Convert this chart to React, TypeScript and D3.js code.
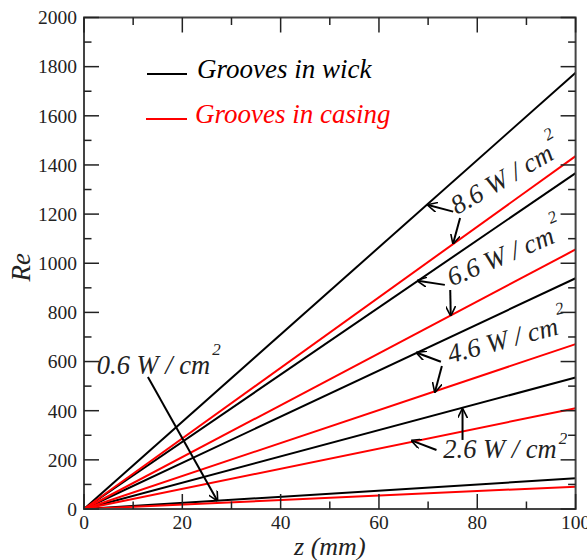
import * as d3 from "d3";

const Z_MM = [0, 100];

// Grooves in wick (black)
const WICK_06 = [0, 125];
const WICK_26 = [0, 535];
const WICK_46 = [0, 939];
const WICK_66 = [0, 1367];
const WICK_86 = [0, 1775];

// Grooves in casing (red)
const CASING_06 = [0, 91];
const CASING_26 = [0, 410];
const CASING_46 = [0, 671];
const CASING_66 = [0, 1056];
const CASING_86 = [0, 1436];

const X_TICKS = [0, 20, 40, 60, 80, 100];
const Y_TICKS = [0, 200, 400, 600, 800, 1000, 1200, 1400, 1600, 1800, 2000];

// heat flux labels: [text, z, Re, angle]
const FLUX_LABELS: [string, number, number, number][] = [
  ["8.6", 75.9, 1196, -30],
  ["6.6", 74.8, 905, -23],
  ["4.6", 74.5, 593, -15],
  ["2.6", 73.1, 206, 0],
  ["0.6", 2.6, 549, 0],
];

// arrows: [z0, Re0, z1, Re1]
const ARROWS: [number, number, number, number][] = [
  [75.1, 1210, 70.0, 1237],
  [76.5, 1184, 75.1, 1081],
  [73.4, 912, 67.9, 929],
  [74.5, 891, 74.6, 789],
  [72.6, 599, 67.7, 636],
  [72.8, 582, 71.4, 477],
  [71.7, 240, 66.7, 278],
  [77.0, 281, 77.0, 406],
  [13.0, 537, 27.1, 35],
];

const W = 587;
const H = 560;
const margin = { top: 17.5, right: 11.4, bottom: 51, left: 84 };
const FONT = "'Liberation Serif', 'DejaVu Serif', serif";

export default function App() {
  const x = d3.scaleLinear().domain([0, 100]).range([margin.left, W - margin.right]);
  const y = d3.scaleLinear().domain([0, 2000]).range([H - margin.bottom, margin.top]);

  const line = d3
    .line<number>()
    .x((_, i) => x(Z_MM[i]))
    .y((d) => y(d));

  const series = [
    { v: WICK_06, c: "#000" },
    { v: WICK_26, c: "#000" },
    { v: WICK_46, c: "#000" },
    { v: WICK_66, c: "#000" },
    { v: WICK_86, c: "#000" },
    { v: CASING_06, c: "#ff0000" },
    { v: CASING_26, c: "#ff0000" },
    { v: CASING_46, c: "#ff0000" },
    { v: CASING_66, c: "#ff0000" },
    { v: CASING_86, c: "#ff0000" },
  ];

  const x0 = x.range()[0];
  const x1 = x.range()[1];
  const y0 = y.range()[0];
  const y1 = y.range()[1];

  const xMinor = d3.range(0, 101, 10);
  const yMinor = d3.range(0, 2001, 100);
  const tf = { fontFamily: FONT };

  return (
    <svg
      width={W}
      height={H}
      style={{ position: "absolute", left: 0, top: 0, background: "#fff", fontFamily: FONT }}
    >
      <defs>
        <marker
          id="arr"
          viewBox="0 0 10 10"
          refX="9"
          refY="5"
          markerWidth="5"
          markerHeight="5"
          orient="auto"
          markerUnits="strokeWidth"
        >
          <path d="M0,0 L10,5 L0,10" fill="none" stroke="#000" strokeWidth="1.6" />
        </marker>
      </defs>

      {/* data lines */}
      {series.map((s, i) => (
        <path key={i} d={line(s.v) || ""} fill="none" stroke={s.c} strokeWidth={2} />
      ))}

      {/* frame */}
      <rect x={x0} y={y1} width={x1 - x0} height={y0 - y1} fill="none" stroke="#444" strokeWidth={2} />

      {/* ticks, inward on all sides */}
      {xMinor.map((t) => {
        const len = t % 20 === 0 ? 15 : 7.5;
        return (
          <g key={"x" + t} stroke="#222" strokeWidth={1.5}>
            <line x1={x(t)} x2={x(t)} y1={y0} y2={y0 - len} />
            <line x1={x(t)} x2={x(t)} y1={y1} y2={y1 + len} />
          </g>
        );
      })}
      {yMinor.map((t) => {
        const len = t % 200 === 0 ? 15 : 7.5;
        return (
          <g key={"y" + t} stroke="#222" strokeWidth={1.5}>
            <line x1={x0} x2={x0 + len} y1={y(t)} y2={y(t)} />
            <line x1={x1} x2={x1 - len} y1={y(t)} y2={y(t)} />
          </g>
        );
      })}

      {/* tick labels */}
      {X_TICKS.map((t) => (
        <text key={"xl" + t} x={x(t)} y={y0 + 20} textAnchor="middle" fontSize={19.5} fill="#222" style={tf}>
          {t}
        </text>
      ))}
      {Y_TICKS.map((t) => (
        <text
          key={"yl" + t}
          x={x0 - 7}
          y={y(t)}
          dy="0.35em"
          textAnchor="end"
          fontSize={19.5}
          fill="#222"
          style={tf}
        >
          {t}
        </text>
      ))}

      {/* axis titles */}
      <text x={(x0 + x1) / 2} y={555} textAnchor="middle" fontSize={26} fontStyle="italic" fill="#222" style={tf}>
        z (mm)
      </text>
      <text
        transform={`translate(30,${(y0 + y1) / 2 + 4}) rotate(-90)`}
        textAnchor="middle"
        fontSize={27}
        fontStyle="italic"
        fill="#222"
        style={tf}
      >
        Re
      </text>

      {/* legend */}
      <line x1={147} x2={187} y1={74} y2={74} stroke="#000" strokeWidth={2} />
      <text x={197} y={78} fontSize={27} fontStyle="italic" fill="#000" style={tf}>
        Grooves in wick
      </text>
      <line x1={146} x2={187} y1={119} y2={119} stroke="#ff0000" strokeWidth={2} />
      <text x={195} y={123} fontSize={27} fontStyle="italic" fill="#ff0000" style={tf}>
        Grooves in casing
      </text>

      {/* arrows */}
      {ARROWS.map(([za, ra, zb, rb], i) => (
        <line
          key={"a" + i}
          x1={x(za)}
          y1={y(ra)}
          x2={x(zb)}
          y2={y(rb)}
          stroke="#000"
          strokeWidth={2}
          markerEnd="url(#arr)"
        />
      ))}

      {/* heat flux labels */}
      {FLUX_LABELS.map(([txt, z, re, ang]) => (
        <text
          key={txt}
          transform={`translate(${x(z)},${y(re)}) rotate(${ang})`}
          fontSize={26.5}
          fontStyle="italic"
          fill="#222"
          style={tf}
        >
          {txt} W / cm
          <tspan fontSize={17} dx={2} dy={ang === 0 && txt === "2.6" ? -14 : -19}>
            2
          </tspan>
        </text>
      ))}
    </svg>
  );
}
